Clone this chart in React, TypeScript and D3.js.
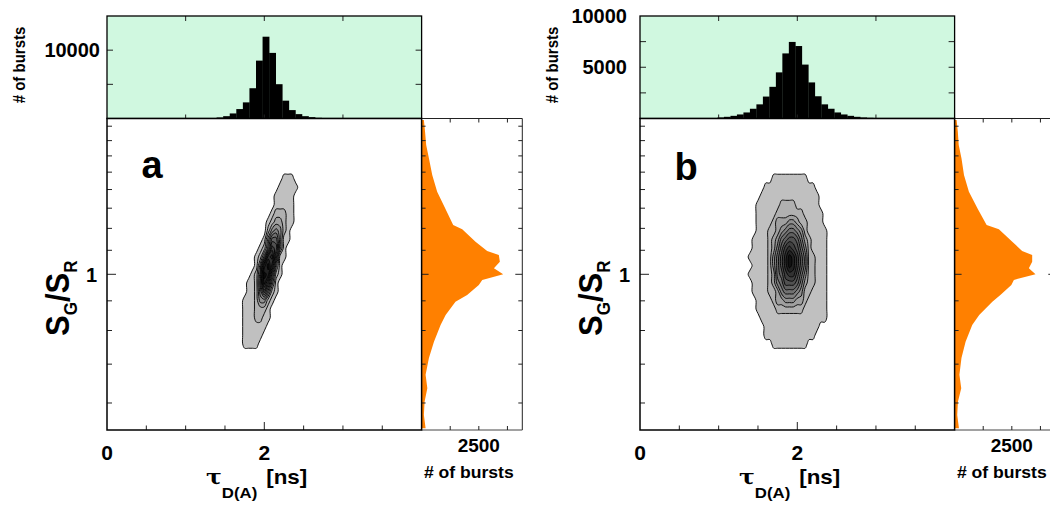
import React from "react";
import * as d3 from "d3";

// ---------------- data ----------------
const tauTicks = [0.5, 1, 1.5, 2, 2.5, 3, 3.5];
const tauMajor = [2];
const tauLabels = [0, 2];
const topTauTicks = [1, 2, 3];
const ratioTicks = [0.6, 0.7, 0.8, 0.9, 1, 1.1, 1.2, 1.3, 1.4, 1.5, 1.6, 1.7, 1.8];
const ratioMajor = [1];
const ratioLabels = [1];
const burstTicksRight = [1250, 2500, 3750];
const burstLabelsRight = [2500];

// top histograms of tau_D(A)
const tauHistStartA = 1.31;
const tauHistWidthA = 0.0835;
const tauHistCountsA = [60, 150, 340, 740, 1380, 2360, 4430, 8470, 11970, 9600, 5020, 2610, 1230, 640, 340, 200, 100];
const tauHistStartB = 0.985;
const tauHistWidthB = 0.0825;
const tauHistCountsB = [100, 165, 260, 395, 590, 950, 1380, 2140, 3090, 4500, 6350, 7470, 7070, 5260, 3520, 2170, 1380, 950, 590, 395, 260, 165, 100, 65];
const topMaxA = 15000;
const topMaxB = 10000;
const topTicksA = [5000, 10000];
const topLabelsA = [10000];
const topTicksB = [2500, 5000, 7500];
const topLabelsB = [5000, 10000];

// right histograms of SG/SR
const ratioProfile = [1.845, 1.762, 1.671, 1.585, 1.483, 1.388, 1.295, 1.216, 1.196, 1.138, 1.097, 1.08, 1.051, 1.024, 1.0, 0.978, 0.958, 0.921, 0.897, 0.851, 0.818, 0.765, 0.717, 0.671, 0.636, 0.603, 0.572, 0.543];
const ratioCountsA = [100, 150, 200, 320, 465, 680, 1050, 1380, 1775, 2355, 2865, 3375, 3420, 3160, 3565, 2650, 2500, 1990, 1480, 1050, 830, 540, 320, 175, 250, 130, 100, 175];
const ratioCountsB = [87, 140, 180, 300, 410, 625, 1020, 1400, 1935, 2520, 2950, 3390, 3390, 3245, 3535, 2590, 2480, 2000, 1650, 1075, 770, 480, 300, 210, 290, 145, 115, 190];

// 2D burst-frequency grids (contour level per cell), tau columns, log10(SG/SR) rows
const gridTauStep = 0.05;
const gridLogTop = 0.195;
const gridLogStep = 0.015;
const gridTau0A = 1.55;
const gridA = [
  "0000000000000000000",
  "0000000000000000000",
  "0000000000000011100",
  "0000000000000111110",
  "0000000000001111100",
  "0000000000001111100",
  "0000000000012221100",
  "0000000000123321100",
  "0000000000245421000",
  "0000000001477411000",
  "0000000012598410000",
  "0000000125ab6110000",
  "000000014ac94100000",
  "000000125cb62100000",
  "000001126b841000000",
  "0000011258521000000",
  "0000111244210000000",
  "0000111222100000000",
  "0000111221100000000",
  "0000111111000000000",
  "0000111110000000000",
  "0000111100000000000",
  "0000000000000000000",
  "0000000000000000000",
];
const gridTau0B = 1.25;
const gridB = [
  "00000000000000000000000000",
  "00000000000000000000000000",
  "000000000" + "111111111" + "00000000",
  "0000000" + "1111111111111" + "000000",
  "000000" + "111111111111111" + "00000",
  "00000" + "111111" + "2222" + "111111" + "00000",
  "00000" + "11111" + "2222222" + "11111" + "0000",
  "00000" + "1111" + "2" + "333443" + "22" + "1111" + "0000",
  "00000" + "111" + "22" + "3456654" + "2" + "11111" + "000",
  "0000" + "1111" + "2" + "346788753" + "2" + "1111" + "000",
  "0000" + "1111" + "2" + "3579a9864" + "2" + "1111" + "000",
  "000" + "11111" + "2" + "468acb975" + "22" + "111" + "000",
  "0000" + "1111" + "2" + "468acb975" + "22" + "111" + "000",
  "000" + "11111" + "2" + "3679aa864" + "22" + "111" + "000",
  "0000" + "1111" + "2" + "356888753" + "22" + "111" + "000",
  "0000" + "1111" + "22" + "3566654" + "22" + "1111" + "000",
  "00000" + "1111" + "2" + "3344433" + "2" + "11111" + "000",
  "00000" + "11111" + "2222222" + "111111" + "000",
  "000000" + "11111111111111111" + "000",
  "0000000" + "11111111111111" + "00000",
  "0000000" + "1111111111111" + "000000",
  "000000000" + "111111111" + "00000000",
  "00000000000000000000000000",
  "00000000000000000000000000",
];
const contourLevels = [0.5, 1.5, 2.5, 3.5, 4.5, 5.5, 6.5, 7.5, 8.5, 9.5, 10.5, 11.5];

// ---------------- layout ----------------
const FONT = "'Liberation Sans', Arial, Helvetica, sans-serif";
const TOP_Y0 = 16;
const TOP_Y1 = 118.5;
const MAIN_Y1 = 430;
const MAIN_W = 314.6;
const RIGHT_W = 100.7;

type PanelCfg = {
  left: number;
  letter: string;
  letterY: number;
  histStart: number;
  histWidth: number;
  histCounts: number[];
  topMax: number;
  topTicks: number[];
  topLabels: number[];
  topLabelX: number;
  ratioCounts: number[];
  grid: string[];
  gridTau0: number;
};

const panels: PanelCfg[] = [
  {
    left: 107, letter: "a", letterY: 178,
    histStart: tauHistStartA, histWidth: tauHistWidthA, histCounts: tauHistCountsA,
    topMax: topMaxA, topTicks: topTicksA, topLabels: topLabelsA, topLabelX: 100,
    ratioCounts: ratioCountsA, grid: gridA, gridTau0: gridTau0A,
  },
  {
    left: 640, letter: "b", letterY: 180,
    histStart: tauHistStartB, histWidth: tauHistWidthB, histCounts: tauHistCountsB,
    topMax: topMaxB, topTicks: topTicksB, topLabels: topLabelsB, topLabelX: 627,
    ratioCounts: ratioCountsB, grid: gridB, gridTau0: gridTau0B,
  },
];

function parseGrid(rows: string[]) {
  const ncols = rows[0].length;
  const values: number[] = [];
  rows.forEach((r) => {
    for (let j = 0; j < ncols; j++) {
      const v = parseInt(r[j] ?? "0", 16);
      values.push(isNaN(v) ? 0 : v);
    }
  });
  return { values, ncols, nrows: rows.length };
}

const gray = d3.scaleLinear<string>().domain([0, 11]).range(["#c0c0c0", "#121212"]);
const smoothRing = d3.line<[number, number]>().curve(d3.curveCatmullRomClosed.alpha(0.5));

function Panel({ cfg }: { cfg: PanelCfg }) {
  const L = cfg.left;
  const R = L + MAIN_W;
  const x = d3.scaleLinear().domain([0, 4]).range([L, R]);
  const y = d3.scaleLog().domain([0.539, 1.856]).range([MAIN_Y1, TOP_Y1]);
  const yTop = d3.scaleLinear().domain([0, cfg.topMax]).range([TOP_Y1, TOP_Y0]);
  const xR = d3.scaleLinear().domain([0, 4400]).range([R, R + RIGHT_W]);

  const { values, ncols, nrows } = parseGrid(cfg.grid);
  const conts = d3.contours().size([ncols, nrows]).thresholds(contourLevels).smooth(true)(values);
  const toScreen = (p: number[]): [number, number] => [
    x(cfg.gridTau0 + (p[0] - 0.5) * gridTauStep),
    y(Math.pow(10, gridLogTop - (p[1] - 0.5) * gridLogStep)),
  ];
  const contourPath = (c: d3.ContourMultiPolygon) => {
    let d = "";
    c.coordinates.forEach((poly) => {
      poly.forEach((ring) => {
        const pts = ring.slice(0, ring.length - 1).map(toScreen);
        if (pts.length > 2) d += smoothRing(pts) || "";
      });
    });
    return d;
  };

  const pts = ratioProfile.map((s, i) => [s, cfg.ratioCounts[i]] as [number, number]);
  const area = d3
    .area<[number, number]>()
    .y((d) => y(d[0]))
    .x0(xR(0))
    .x1((d) => xR(d[1]));

  const tickStroke = "#222";
  const RR = R + RIGHT_W;

  return (
    <g>
      {/* top histogram */}
      <rect x={L} y={TOP_Y0} width={MAIN_W} height={TOP_Y1 - TOP_Y0} fill="#d0f8e0" />
      {cfg.histCounts.map((c, i) => {
        const x0 = x(cfg.histStart + i * cfg.histWidth);
        const x1 = x(cfg.histStart + (i + 1) * cfg.histWidth);
        return <rect key={i} x={x0} y={yTop(c)} width={x1 - x0 + 0.3} height={TOP_Y1 - yTop(c)} fill="#000" />;
      })}
      {topTauTicks.map((t) => (
        <g key={t}>
          <line x1={x(t)} x2={x(t)} y1={TOP_Y1} y2={TOP_Y1 - 4} stroke={tickStroke} strokeWidth={1} />
          <line x1={x(t)} x2={x(t)} y1={TOP_Y0} y2={TOP_Y0 + 5} stroke={tickStroke} strokeWidth={1} />
        </g>
      ))}
      {cfg.topTicks.map((t) => (
        <g key={t}>
          <line x1={L} x2={L + 6} y1={yTop(t)} y2={yTop(t)} stroke={tickStroke} strokeWidth={1} />
          <line x1={R} x2={R - 6} y1={yTop(t)} y2={yTop(t)} stroke={tickStroke} strokeWidth={1} />
        </g>
      ))}
      <rect x={L} y={TOP_Y0} width={MAIN_W} height={TOP_Y1 - TOP_Y0} fill="none" stroke="#000" strokeWidth={1.3} />
      {cfg.topLabels.map((t) => (
        <text key={t} x={cfg.topLabelX} y={yTop(t) + 7} textAnchor="end" fontSize={20} fontWeight="bold" fontFamily={FONT}>
          {t}
        </text>
      ))}

      {/* right histogram */}
      <path d={area(pts) || ""} fill="#ff8000" />
      <line x1={R} x2={RR} y1={TOP_Y1} y2={TOP_Y1} stroke="#222" strokeWidth={1} />
      <line x1={RR} x2={RR} y1={TOP_Y1} y2={MAIN_Y1} stroke="#222" strokeWidth={1} />
      <line x1={R} x2={RR} y1={MAIN_Y1} y2={MAIN_Y1} stroke="#444" strokeWidth={1} />
      {burstTicksRight.map((t) => (
        <g key={t}>
          <line x1={xR(t)} x2={xR(t)} y1={TOP_Y1} y2={TOP_Y1 + 4} stroke={tickStroke} />
          <line x1={xR(t)} x2={xR(t)} y1={MAIN_Y1} y2={MAIN_Y1 - 4} stroke={tickStroke} />
        </g>
      ))}
      {ratioTicks.map((t) => {
        const len = ratioMajor.includes(t) ? 7 : 4;
        return (
          <g key={t}>
            <line x1={RR} x2={RR - len} y1={y(t)} y2={y(t)} stroke={tickStroke} />
            <line x1={R} x2={R + len} y1={y(t)} y2={y(t)} stroke={tickStroke} />
          </g>
        );
      })}
      {burstLabelsRight.map((t) => (
        <text key={t} x={xR(t)} y={452} textAnchor="middle" fontSize={19} fontWeight="bold" fontFamily={FONT}>
          {t}
        </text>
      ))}
      <text transform={`translate(${xR(2500) - 10},478) scale(1.1,1)`} textAnchor="middle" fontSize={16} fontWeight="bold" fontFamily={FONT}>
        # of bursts
      </text>

      {/* main contour plot */}
      <rect x={L} y={TOP_Y1} width={MAIN_W} height={MAIN_Y1 - TOP_Y1} fill="#fff" />
      {conts.map((c, i) =>
        c.coordinates.length ? (
          <path key={i} d={contourPath(c)} fill={gray(i)} fillRule="evenodd" stroke="#000" strokeWidth={0.9} strokeLinejoin="round" />
        ) : null
      )}
      {ratioTicks.map((t) => {
        const len = ratioMajor.includes(t) ? 9 : 5;
        return <line key={t} x1={L} x2={L + len} y1={y(t)} y2={y(t)} stroke={tickStroke} />;
      })}
      {tauTicks.map((t) => {
        const len = tauMajor.includes(t) ? 8 : 4.5;
        return <line key={t} x1={x(t)} x2={x(t)} y1={MAIN_Y1} y2={MAIN_Y1 - len} stroke={tickStroke} />;
      })}
      <rect x={L} y={TOP_Y1} width={MAIN_W} height={MAIN_Y1 - TOP_Y1} fill="none" stroke="#000" strokeWidth={1.5} />
      {ratioLabels.map((t) => (
        <text key={t} x={L - 10} y={y(t) + 7.5} textAnchor="end" fontSize={20} fontWeight="bold" fontFamily={FONT}>
          {t}
        </text>
      ))}
      {tauLabels.map((t) => (
        <text key={t} x={x(t)} y={460} textAnchor="middle" fontSize={21} fontWeight="bold" fontFamily={FONT}>
          {t}
        </text>
      ))}
      <text x={x(0) + 34.5} y={cfg.letterY} fontSize={38} fontWeight="bold" fontFamily={FONT}>
        {cfg.letter}
      </text>

      {/* axis titles */}
      <text transform={`translate(${L - 82},65) scale(1.1,1) rotate(-90)`} textAnchor="middle" fontSize={15} fontWeight="bold" fontFamily={FONT}>
        # of bursts
      </text>
      <text transform={`translate(${L - 38},336) scale(1.1,1) rotate(-90)`} fontSize={31} fontWeight="bold" fontFamily={FONT}>
        <tspan>S</tspan>
        <tspan fontSize={17} dy={7}>G</tspan>
        <tspan dy={-7}>/S</tspan>
        <tspan fontSize={17} dy={7}>R</tspan>
      </text>
      <text transform={`translate(${L + 99},484) scale(1.12,1)`} fontSize={20} fontWeight="bold" fontFamily={FONT}>
        <tspan fontSize={21} fontFamily="'DejaVu Serif', serif" fontWeight="bold">τ</tspan>
        <tspan fontSize={15} dy={14}>D(A)</tspan>
        <tspan dy={-14} dx={8}>[ns]</tspan>
      </text>
    </g>
  );
}

export default function App() {
  return (
    <svg
      width={1050}
      height={506}
      viewBox="0 0 1050 506"
      style={{ position: "absolute", left: 0, top: 0, background: "#fff" }}
    >
      <rect x={0} y={0} width={1050} height={506} fill="#fff" />
      {panels.map((p) => (
        <Panel key={p.letter} cfg={p} />
      ))}
    </svg>
  );
}
